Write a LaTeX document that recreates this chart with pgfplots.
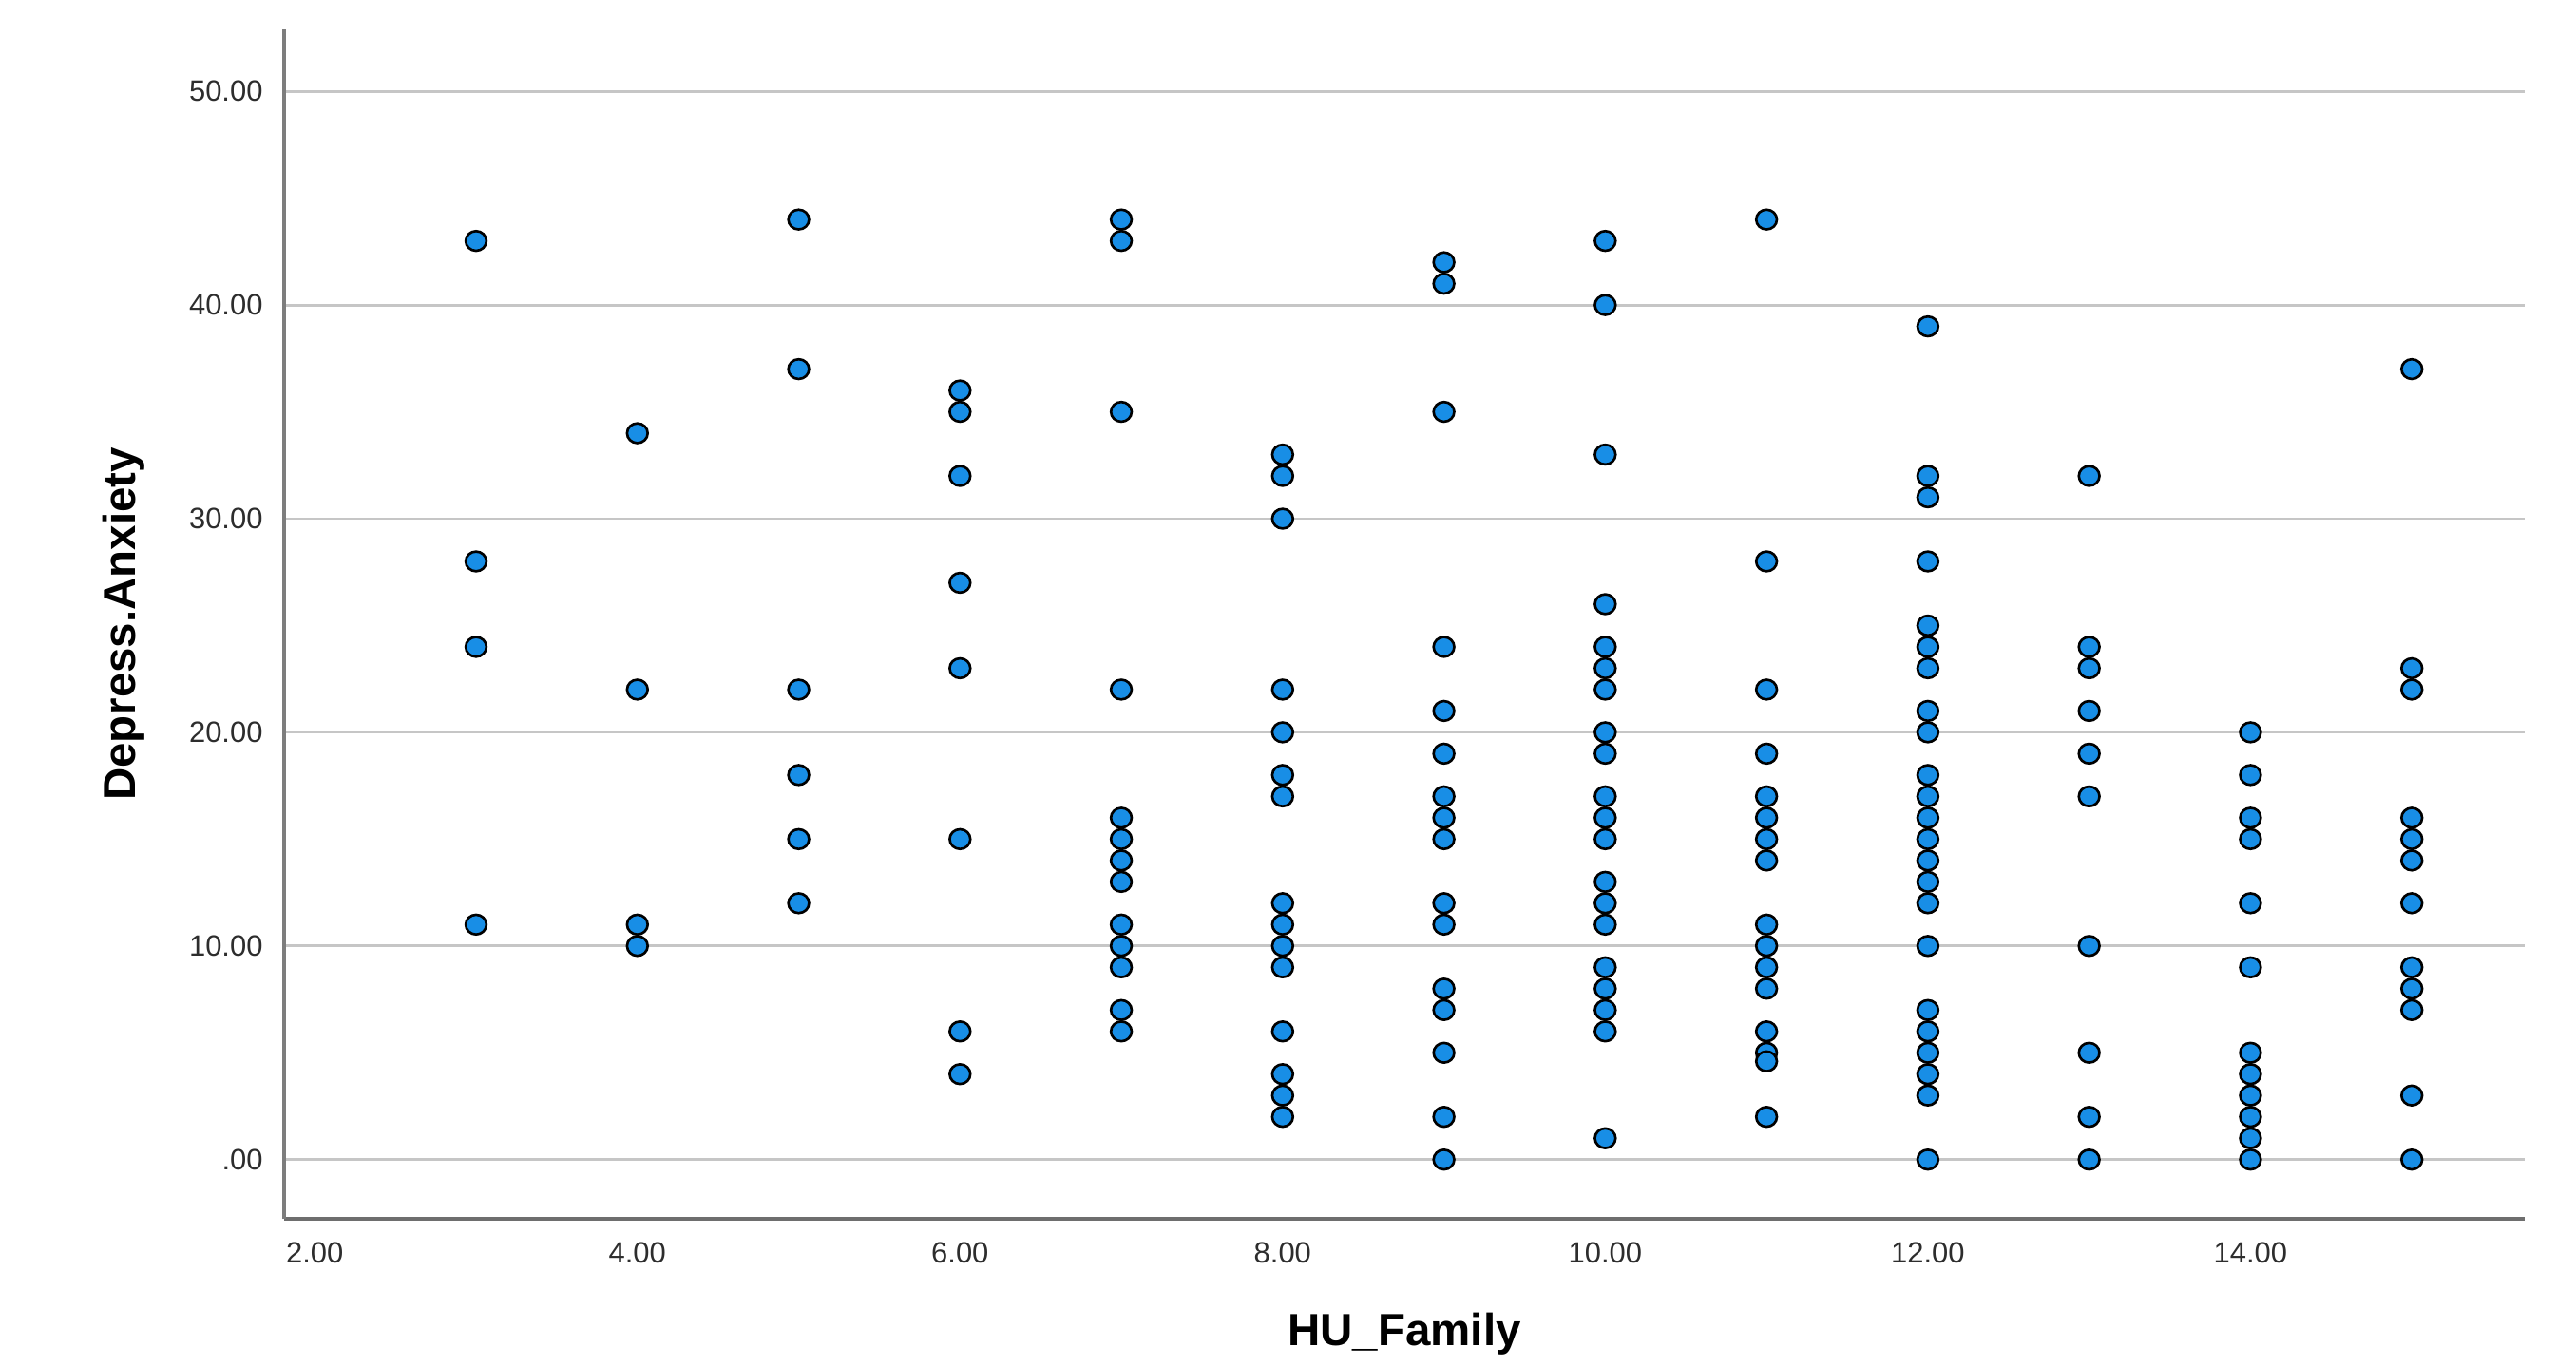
\documentclass[border=0pt]{standalone}
\usepackage{pgfplots}
\pgfplotsset{compat=1.18}
\usepackage{fontspec}
\setmainfont{Liberation Sans}
\definecolor{ptblue}{RGB}{24,142,230}
\definecolor{gridgray}{RGB}{198,198,198}
\definecolor{spinegray}{RGB}{125,125,125}
\definecolor{bottomgray}{RGB}{110,110,110}
\definecolor{ticktext}{RGB}{45,45,45}
\begin{document}
\begin{tikzpicture}
\useasboundingbox (-29.9mm,-15.4mm) rectangle (241.2mm,128.3mm);
\begin{axis}[
  at={(0,0)}, anchor=south west,
  scale only axis, width=235.8mm, height=125.2mm,
  xmin=1.81, xmax=15.70, ymin=-2.77, ymax=52.9,
  axis x line=bottom, axis y line=left,
  axis line style={-, line width=0.9pt},
  x axis line style={bottomgray},
  y axis line style={spinegray},
  major tick length=0pt,
  xtick={2,4,...,14},
  xticklabels={2.00,4.00,6.00,8.00,10.00,12.00,14.00},
  ytick={0,10,...,50},
  yticklabels={.00,10.00,20.00,30.00,40.00,50.00},
  ymajorgrids, grid style={gridgray, line width=0.8pt},
  tick label style={font=\fontsize{8.8}{10}\selectfont, text=ticktext},
  yticklabel style={inner sep=0pt, xshift=-6.2pt},
  xticklabel style={inner sep=0pt, yshift=-7pt},
  /pgf/number format/assume math mode=true,
  xlabel={\textbf{HU\_Family}},
  ylabel={\textbf{Depress.Anxiety}},
  label style={font=\fontsize{13.5}{16}\selectfont},
  xlabel style={at={(axis description cs:0.5,-0.0966)}, anchor=center},
  ylabel style={at={(axis description cs:-0.0717,0.5)}, anchor=center},
  clip=false,
]
\addplot[only marks, mark=*, mark size=2.95pt,
  mark options={fill=ptblue, draw=black, line width=0.75pt, xscale=1.05}]
table {
x y
3 43
3 28
3 24
3 11
4 34
4 22
4 11
4 10
5 44
5 37
5 22
5 18
5 15
5 12
6 36
6 35
6 32
6 27
6 23
6 15
6 6
6 4
7 44
7 43
7 35
7 22
7 16
7 15
7 14
7 13
7 11
7 10
7 9
7 7
7 6
8 33
8 32
8 30
8 22
8 20
8 18
8 17
8 12
8 11
8 10
8 9
8 6
8 4
8 3
8 2
9 42
9 41
9 35
9 24
9 21
9 19
9 17
9 16
9 15
9 12
9 11
9 8
9 7
9 5
9 2
9 0
10 43
10 40
10 33
10 26
10 24
10 23
10 22
10 20
10 19
10 17
10 16
10 15
10 13
10 12
10 11
10 9
10 8
10 7
10 6
10 1
11 44
11 28
11 22
11 19
11 17
11 16
11 15
11 14
11 11
11 10
11 9
11 8
11 6
11 5
11 4.6
11 2
12 39
12 32
12 31
12 28
12 25
12 24
12 23
12 21
12 20
12 18
12 17
12 16
12 15
12 14
12 13
12 12
12 10
12 7
12 6
12 5
12 4
12 3
12 0
13 32
13 24
13 23
13 21
13 19
13 17
13 10
13 5
13 2
13 0
14 20
14 18
14 16
14 15
14 12
14 9
14 5
14 4
14 3
14 2
14 1
14 0
15 37
15 23
15 22
15 16
15 15
15 14
15 12
15 9
15 8
15 7
15 3
15 0
};
\end{axis}
\end{tikzpicture}
\end{document}
